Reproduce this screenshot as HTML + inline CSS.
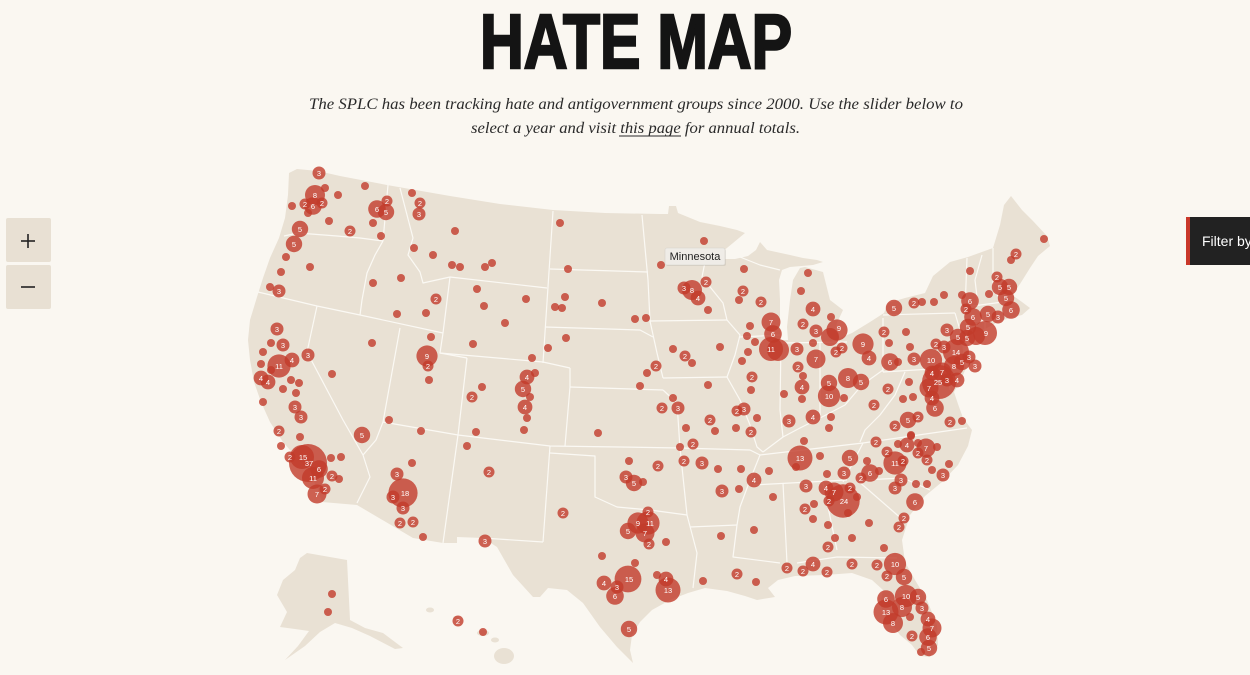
<!DOCTYPE html>
<html><head><meta charset="utf-8"><style>
html,body{margin:0;padding:0;background:#faf7f1;}
svg{display:block;}
</style></head><body>
<svg width="1250" height="675" viewBox="0 0 1250 675" xmlns="http://www.w3.org/2000/svg">
<rect width="1250" height="675" fill="#faf7f1"/>
<text x="480" y="68" font-family="Liberation Sans Narrow, Liberation Sans, sans-serif" font-weight="bold" font-size="77" fill="#141414" stroke="#141414" stroke-width="2.5" textLength="312" lengthAdjust="spacingAndGlyphs">HATE MAP</text>
<text x="309" y="109" font-family="Liberation Serif, serif" font-style="italic" font-size="16" fill="#2a2a2a" textLength="654" lengthAdjust="spacingAndGlyphs">The SPLC has been tracking hate and antigovernment groups since 2000. Use the slider below to</text>
<text x="471" y="133" font-family="Liberation Serif, serif" font-style="italic" font-size="16" fill="#2a2a2a" textLength="329" lengthAdjust="spacingAndGlyphs">select a year and visit this page for annual totals.</text>
<line x1="619" y1="136" x2="681" y2="136" stroke="#2a2a2a" stroke-width="0.9"/>

<!-- zoom buttons -->
<rect x="6" y="218" width="45" height="44" rx="2" fill="#e8e0d3"/>
<rect x="6" y="265" width="45" height="44" rx="2" fill="#e8e0d3"/>
<line x1="21" y1="241" x2="35" y2="241" stroke="#222" stroke-width="1.6"/>
<line x1="28" y1="234" x2="28" y2="248" stroke="#222" stroke-width="1.6"/>
<line x1="21" y1="287" x2="35" y2="287" stroke="#222" stroke-width="1.6"/>

<!-- filter button -->
<rect x="1186" y="217" width="70" height="48" rx="3" fill="#222"/>
<rect x="1186" y="217" width="4" height="48" fill="#c9382a"/>
<text x="1202" y="246" font-family="Liberation Sans, sans-serif" font-size="14" fill="#fff">Filter by</text>

<!-- land -->
<g fill="#e9e1d4">
<path d="M289,173 L297,169 L318,171 L340,176 L387,185 L450,196 L500,204 L553,210 L605,213 L660,214 L668,214 L669,206 L676,206 L678,213 L700,222 L720,226 L737,230 L745,233 L733,243 L722,252 L718,259 L735,259 L748,256 L756,250 L760,242 L767,250 L790,255 L803,258 L817,260 L823,262 L813,265 L790,267 L782,270 L779,280 L780,300 L780,327 L781,340 L788,340 L787,327 L790,300 L793,280 L800,268 L805,267 L823,272 L830,300 L843,310 L837,323 L835,330 L840,338 L852,333 L870,322 L884,313 L888,303 L905,298 L925,293 L933,276 L950,262 L968,257 L993,248 L1000,225 L1004,205 L1011,196 L1022,210 L1033,221 L1047,236 L1050,246 L1038,256 L1030,268 L1020,284 L1012,295 L1022,302 L1030,308 L1022,315 L1010,318 L998,322 L985,329 L972,334 L962,340 L963,352 L966,368 L960,382 L954,392 L958,404 L963,418 L972,430 L968,446 L958,465 L942,482 L925,496 L910,515 L902,540 L905,562 L915,580 L927,600 L937,625 L938,645 L930,657 L920,656 L912,645 L900,635 L890,622 L880,605 L883,590 L872,580 L852,573 L825,575 L795,576 L778,580 L768,588 L775,597 L757,600 L745,596 L727,591 L705,588 L688,593 L670,600 L652,610 L640,622 L632,635 L630,650 L633,663 L617,647 L600,627 L583,603 L567,590 L548,588 L540,597 L533,597 L513,575 L497,547 L483,538 L457,537 L457,543 L443,543 L413,538 L357,505 L322,502 L318,490 L310,472 L296,457 L283,442 L270,422 L261,402 L254,382 L250,360 L248,340 L250,320 L257,297 L263,278 L270,258 L279,238 L285,218 L288,195 Z"/>
<path d="M307,553 L347,560 L350,620 L365,628 L383,633 L403,648 L395,649 L370,636 L352,628 L335,623 L320,632 L305,646 L285,660 L298,646 L309,631 L295,629 L280,627 L287,612 L277,595 L283,580 L295,570 L300,558 Z"/>
<ellipse cx="430" cy="610" rx="4" ry="2.5"/>
<ellipse cx="456" cy="618" rx="3" ry="2"/>
<ellipse cx="483" cy="633" rx="6" ry="3"/>
<ellipse cx="495" cy="640" rx="4" ry="2.5"/>
<ellipse cx="504" cy="656" rx="10" ry="8"/>
</g>

<!-- state borders -->
<g fill="none" stroke="#fbf9f4" stroke-width="1.2" stroke-linejoin="round">
<polyline points="284,236 298,233 337,236 360,238 383,241"/>
<polyline points="388,185 383,241"/>
<polyline points="383,241 375,255 367,273 362,300 360,315"/>
<polyline points="258,292 317,306 360,315 443,333"/>
<polyline points="317,306 307,352 343,420 363,455 370,477 357,503"/>
<polyline points="400,328 383,422 376,440 363,455"/>
<polyline points="383,422 458,435 550,446 620,447 680,448"/>
<polyline points="458,435 443,543"/>
<polyline points="400,188 413,238 408,255 420,272 423,283 450,277"/>
<polyline points="450,277 443,333 440,353 467,358"/>
<polyline points="450,277 547,288"/>
<polyline points="553,211 543,363"/>
<polyline points="440,353 543,362 570,368"/>
<polyline points="467,358 458,435"/>
<polyline points="570,368 570,387 565,446"/>
<polyline points="550,269 648,272"/>
<polyline points="545,327 640,330 653,337"/>
<polyline points="570,387 663,390"/>
<polyline points="663,390 677,403 680,448"/>
<polyline points="550,453 595,456 595,497 617,507 650,510 687,515"/>
<polyline points="680,448 687,515"/>
<polyline points="550,446 543,542"/>
<polyline points="483,538 543,542"/>
<polyline points="687,515 697,553 693,588"/>
<polyline points="642,215 648,280 650,321"/>
<polyline points="650,321 727,320"/>
<polyline points="663,378 727,377"/>
<polyline points="650,321 657,353 663,378"/>
<polyline points="727,320 740,335 735,355 727,377"/>
<polyline points="705,262 702,277 723,303 727,320"/>
<polyline points="740,337 780,335"/>
<polyline points="740,257 760,265 780,270"/>
<polyline points="727,377 740,400 750,425 757,447 763,452"/>
<polyline points="680,448 750,450 760,455"/>
<polyline points="781,340 780,410 783,437"/>
<polyline points="763,452 783,437 800,428 822,417 845,405 862,385 883,370"/>
<polyline points="820,343 820,418"/>
<polyline points="781,343 847,342"/>
<polyline points="883,318 883,372"/>
<polyline points="883,315 955,313"/>
<polyline points="955,313 960,330 962,340"/>
<polyline points="883,372 948,368"/>
<polyline points="905,372 895,395 880,415 865,430 860,442"/>
<polyline points="760,455 863,443"/>
<polyline points="863,443 967,428"/>
<polyline points="863,443 843,482"/>
<polyline points="753,485 847,480"/>
<polyline points="760,455 750,480 740,507 737,525"/>
<polyline points="690,527 737,525"/>
<polyline points="737,525 733,557 780,563"/>
<polyline points="783,483 787,563"/>
<polyline points="823,483 837,550"/>
<polyline points="797,563 837,557 897,558"/>
<polyline points="857,480 903,520"/>
<polyline points="863,480 903,478 930,490"/>
<polyline points="967,258 965,310"/>
<polyline points="982,255 975,280 978,305"/>
<polyline points="993,248 993,290 1000,298"/>
<polyline points="965,307 1003,302"/>
<polyline points="965,322 995,320"/>
<polyline points="985,320 985,330"/>
<polyline points="948,368 950,390"/>
</g>

<!-- dots -->
<g fill="#c23b2b" fill-opacity="0.8">
<circle cx="319" cy="173" r="6.5"/><circle cx="315" cy="195" r="10"/><circle cx="305" cy="204" r="5.5"/><circle cx="313" cy="206" r="8.8"/><circle cx="322" cy="203" r="5.5"/><circle cx="325" cy="188" r="4"/><circle cx="308" cy="213" r="4"/><circle cx="292" cy="206" r="4"/><circle cx="338" cy="195" r="4"/><circle cx="365" cy="186" r="4"/><circle cx="377" cy="209" r="8.8"/><circle cx="386" cy="212" r="8.2"/><circle cx="387" cy="201" r="5.5"/><circle cx="373" cy="223" r="4"/><circle cx="381" cy="236" r="4"/><circle cx="329" cy="221" r="4"/><circle cx="350" cy="231" r="5.5"/><circle cx="300" cy="229" r="8.2"/><circle cx="294" cy="244" r="8.2"/><circle cx="286" cy="257" r="4"/><circle cx="281" cy="272" r="4"/><circle cx="310" cy="267" r="4"/><circle cx="270" cy="287" r="4"/><circle cx="279" cy="291" r="6.5"/>
<circle cx="412" cy="193" r="4"/><circle cx="420" cy="203" r="5.5"/><circle cx="419" cy="214" r="6.5"/><circle cx="455" cy="231" r="4"/><circle cx="414" cy="248" r="4"/><circle cx="433" cy="255" r="4"/><circle cx="452" cy="265" r="4"/><circle cx="460" cy="267" r="4"/><circle cx="485" cy="267" r="4"/><circle cx="492" cy="263" r="4"/><circle cx="560" cy="223" r="4"/><circle cx="568" cy="269" r="4"/><circle cx="373" cy="283" r="4"/><circle cx="401" cy="278" r="4"/><circle cx="436" cy="299" r="5.5"/><circle cx="397" cy="314" r="4"/><circle cx="426" cy="313" r="4"/><circle cx="477" cy="289" r="4"/><circle cx="484" cy="306" r="4"/><circle cx="526" cy="299" r="4"/><circle cx="505" cy="323" r="4"/><circle cx="565" cy="297" r="4"/><circle cx="555" cy="307" r="4"/><circle cx="562" cy="308" r="4"/><circle cx="602" cy="303" r="4"/><circle cx="635" cy="319" r="4"/><circle cx="646" cy="318" r="4"/><circle cx="566" cy="338" r="4"/><circle cx="548" cy="348" r="4"/><circle cx="532" cy="358" r="4"/><circle cx="473" cy="344" r="4"/><circle cx="431" cy="337" r="4"/>
<circle cx="427" cy="356" r="10.6"/><circle cx="428" cy="366" r="5.5"/><circle cx="429" cy="380" r="4"/><circle cx="372" cy="343" r="4"/><circle cx="332" cy="374" r="4"/><circle cx="308" cy="355" r="6.5"/><circle cx="277" cy="329" r="6.5"/><circle cx="283" cy="345" r="6.5"/><circle cx="271" cy="343" r="4"/><circle cx="263" cy="352" r="4"/><circle cx="261" cy="364" r="4"/><circle cx="279" cy="366" r="11.6"/><circle cx="292" cy="360" r="7.4"/><circle cx="271" cy="370" r="4"/><circle cx="261" cy="378" r="7.4"/><circle cx="268" cy="382" r="7.4"/><circle cx="291" cy="380" r="4"/><circle cx="299" cy="383" r="4"/><circle cx="283" cy="389" r="4"/><circle cx="296" cy="393" r="4"/><circle cx="263" cy="402" r="4"/><circle cx="295" cy="407" r="6.5"/><circle cx="301" cy="417" r="6.5"/><circle cx="389" cy="420" r="4"/>
<circle cx="527" cy="377" r="7.4"/><circle cx="535" cy="373" r="4"/><circle cx="523" cy="389" r="8.2"/><circle cx="530" cy="397" r="4"/><circle cx="525" cy="407" r="7.4"/><circle cx="527" cy="418" r="4"/><circle cx="482" cy="387" r="4"/><circle cx="472" cy="397" r="5.5"/><circle cx="656" cy="366" r="5.5"/><circle cx="647" cy="373" r="4"/><circle cx="640" cy="386" r="4"/><circle cx="524" cy="430" r="4"/>
<circle cx="279" cy="431" r="5.5"/><circle cx="300" cy="437" r="4"/><circle cx="281" cy="446" r="4"/><circle cx="290" cy="457" r="5.5"/>
<circle cx="308" cy="463" r="19"/><circle cx="302" cy="457" r="12"/><circle cx="319" cy="469" r="8.8"/><circle cx="313" cy="478" r="11"/>
<circle cx="331" cy="458" r="4"/><circle cx="341" cy="457" r="4"/><circle cx="332" cy="476" r="5.5"/><circle cx="339" cy="479" r="4"/><circle cx="325" cy="489" r="5.5"/><circle cx="317" cy="494" r="9.5"/><circle cx="362" cy="435" r="8.2"/><circle cx="421" cy="431" r="4"/><circle cx="476" cy="432" r="4"/><circle cx="467" cy="446" r="4"/>
<circle cx="412" cy="463" r="4"/><circle cx="397" cy="474" r="6.5"/><circle cx="403" cy="493" r="14.6"/><circle cx="393" cy="497" r="6.5"/><circle cx="403" cy="508" r="6.5"/><circle cx="400" cy="523" r="5.5"/><circle cx="413" cy="522" r="5.5"/><circle cx="423" cy="537" r="4"/><circle cx="489" cy="472" r="5.5"/><circle cx="485" cy="541" r="6.5"/><circle cx="563" cy="513" r="5.5"/><circle cx="598" cy="433" r="4"/>
<circle cx="662" cy="408" r="5.5"/><circle cx="678" cy="408" r="6.5"/><circle cx="686" cy="428" r="4"/><circle cx="680" cy="447" r="4"/><circle cx="693" cy="444" r="5.5"/><circle cx="684" cy="461" r="5.5"/><circle cx="629" cy="461" r="4"/><circle cx="658" cy="466" r="5.5"/><circle cx="626" cy="477" r="6.5"/><circle cx="634" cy="483" r="8.2"/><circle cx="643" cy="482" r="4"/>
<circle cx="648" cy="512" r="5.5"/><circle cx="638" cy="523" r="10.6"/><circle cx="648" cy="523" r="11.6"/><circle cx="628" cy="531" r="8.2"/><circle cx="645" cy="533" r="9.5"/><circle cx="649" cy="544" r="5.5"/><circle cx="666" cy="542" r="4"/><circle cx="602" cy="556" r="4"/><circle cx="635" cy="563" r="4"/><circle cx="628" cy="579" r="13.4"/><circle cx="604" cy="583" r="7.4"/><circle cx="617" cy="587" r="6.5"/><circle cx="615" cy="596" r="8.8"/><circle cx="657" cy="575" r="4"/><circle cx="666" cy="579" r="7.4"/><circle cx="668" cy="590" r="12.5"/><circle cx="629" cy="629" r="8.2"/>
<circle cx="332" cy="594" r="4"/><circle cx="328" cy="612" r="4"/><circle cx="458" cy="621" r="5.5"/><circle cx="483" cy="632" r="4"/>
<circle cx="704" cy="241" r="4"/><circle cx="661" cy="265" r="4"/><circle cx="684" cy="288" r="6.5"/><circle cx="692" cy="290" r="10"/><circle cx="698" cy="298" r="7.4"/><circle cx="706" cy="282" r="5.5"/><circle cx="708" cy="310" r="4"/><circle cx="744" cy="269" r="4"/><circle cx="743" cy="291" r="5.5"/><circle cx="739" cy="300" r="4"/><circle cx="761" cy="302" r="5.5"/>
<circle cx="771" cy="322" r="9.5"/><circle cx="773" cy="334" r="8.8"/><circle cx="778" cy="350" r="11"/><circle cx="771" cy="349" r="12"/>
<circle cx="750" cy="326" r="4"/><circle cx="747" cy="336" r="4"/><circle cx="755" cy="342" r="4"/><circle cx="748" cy="352" r="4"/><circle cx="742" cy="361" r="4"/><circle cx="752" cy="377" r="5.5"/><circle cx="751" cy="390" r="4"/><circle cx="720" cy="347" r="4"/><circle cx="673" cy="349" r="4"/><circle cx="685" cy="356" r="5.5"/><circle cx="692" cy="363" r="4"/><circle cx="708" cy="385" r="4"/><circle cx="673" cy="398" r="4"/><circle cx="710" cy="420" r="5.5"/><circle cx="715" cy="431" r="4"/><circle cx="737" cy="411" r="5.5"/><circle cx="744" cy="409" r="6.5"/><circle cx="736" cy="428" r="4"/><circle cx="751" cy="432" r="5.5"/><circle cx="757" cy="418" r="4"/>
<circle cx="702" cy="463" r="6.5"/><circle cx="718" cy="469" r="4"/><circle cx="741" cy="469" r="4"/><circle cx="769" cy="471" r="4"/><circle cx="754" cy="480" r="7.4"/><circle cx="722" cy="491" r="6.5"/><circle cx="739" cy="489" r="4"/><circle cx="773" cy="497" r="4"/><circle cx="754" cy="530" r="4"/><circle cx="721" cy="536" r="4"/>
<circle cx="808" cy="273" r="4"/><circle cx="801" cy="291" r="4"/><circle cx="813" cy="309" r="7.4"/><circle cx="831" cy="317" r="4"/><circle cx="803" cy="324" r="5.5"/><circle cx="816" cy="331" r="6.5"/><circle cx="837" cy="330" r="10.6"/><circle cx="830" cy="337" r="9"/><circle cx="813" cy="343" r="4"/><circle cx="816" cy="359" r="9.5"/><circle cx="797" cy="349" r="6.5"/><circle cx="836" cy="352" r="5.5"/><circle cx="842" cy="348" r="5.5"/><circle cx="863" cy="344" r="10.6"/><circle cx="869" cy="358" r="7.4"/>
<circle cx="894" cy="308" r="8.2"/><circle cx="914" cy="303" r="5.5"/><circle cx="922" cy="302" r="4"/><circle cx="934" cy="302" r="4"/><circle cx="944" cy="295" r="4"/><circle cx="970" cy="271" r="4"/><circle cx="962" cy="295" r="4"/><circle cx="970" cy="301" r="8.8"/><circle cx="966" cy="309" r="5.5"/><circle cx="989" cy="294" r="4"/><circle cx="997" cy="277" r="5.5"/><circle cx="1011" cy="260" r="4"/><circle cx="1016" cy="254" r="5.5"/><circle cx="1044" cy="239" r="4"/>
<circle cx="1000" cy="287" r="8.2"/><circle cx="1009" cy="287" r="8.2"/><circle cx="1006" cy="298" r="8.2"/><circle cx="1011" cy="310" r="8.8"/><circle cx="998" cy="317" r="6.5"/><circle cx="988" cy="314" r="8.2"/><circle cx="973" cy="317" r="8.8"/><circle cx="968" cy="327" r="8.2"/><circle cx="985" cy="333" r="12"/><circle cx="976" cy="336" r="9"/><circle cx="947" cy="330" r="6.5"/><circle cx="958" cy="337" r="8.2"/><circle cx="967" cy="338" r="8.2"/><circle cx="956" cy="352" r="13"/><circle cx="944" cy="347" r="6.5"/><circle cx="936" cy="344" r="5.5"/><circle cx="969" cy="357" r="6.5"/><circle cx="975" cy="366" r="6.5"/><circle cx="962" cy="362" r="8.2"/><circle cx="954" cy="366" r="10"/><circle cx="931" cy="360" r="11.1"/><circle cx="942" cy="372" r="9.5"/><circle cx="932" cy="373" r="7.4"/><circle cx="939" cy="382" r="17"/><circle cx="947" cy="380" r="6.5"/><circle cx="957" cy="380" r="7.4"/><circle cx="929" cy="388" r="9.5"/><circle cx="932" cy="398" r="7.4"/><circle cx="935" cy="408" r="8.8"/>
<circle cx="909" cy="382" r="4"/><circle cx="913" cy="397" r="4"/><circle cx="903" cy="399" r="4"/><circle cx="914" cy="359" r="6.5"/><circle cx="890" cy="362" r="8.8"/><circle cx="898" cy="362" r="4"/><circle cx="884" cy="332" r="5.5"/><circle cx="906" cy="332" r="4"/><circle cx="889" cy="343" r="4"/><circle cx="910" cy="347" r="4"/><circle cx="888" cy="389" r="5.5"/><circle cx="874" cy="405" r="5.5"/>
<circle cx="848" cy="378" r="10"/><circle cx="861" cy="382" r="8.2"/><circle cx="829" cy="383" r="8.2"/><circle cx="829" cy="396" r="11.1"/><circle cx="844" cy="398" r="4"/><circle cx="802" cy="387" r="7.4"/><circle cx="802" cy="399" r="4"/><circle cx="798" cy="367" r="5.5"/><circle cx="803" cy="376" r="4"/><circle cx="784" cy="394" r="4"/><circle cx="789" cy="421" r="6.5"/><circle cx="813" cy="417" r="7.4"/><circle cx="831" cy="417" r="4"/><circle cx="829" cy="428" r="4"/><circle cx="895" cy="426" r="5.5"/><circle cx="908" cy="420" r="8.2"/><circle cx="918" cy="417" r="5.5"/><circle cx="950" cy="422" r="5.5"/><circle cx="962" cy="421" r="4"/><circle cx="911" cy="435" r="4"/>
<circle cx="804" cy="441" r="4"/><circle cx="800" cy="458" r="12.5"/><circle cx="796" cy="467" r="4"/><circle cx="820" cy="456" r="4"/><circle cx="850" cy="458" r="8.2"/><circle cx="844" cy="473" r="6.5"/><circle cx="827" cy="474" r="4"/><circle cx="806" cy="486" r="6.5"/><circle cx="826" cy="488" r="7.4"/><circle cx="834" cy="492" r="9.5"/><circle cx="850" cy="488" r="5.5"/><circle cx="843" cy="501" r="16.7"/><circle cx="829" cy="501" r="5.5"/><circle cx="857" cy="497" r="4"/><circle cx="848" cy="513" r="4"/><circle cx="814" cy="504" r="4"/><circle cx="805" cy="509" r="5.5"/><circle cx="813" cy="519" r="4"/><circle cx="828" cy="525" r="4"/><circle cx="835" cy="538" r="4"/><circle cx="828" cy="547" r="5.5"/><circle cx="852" cy="538" r="4"/><circle cx="869" cy="523" r="4"/>
<circle cx="867" cy="461" r="4"/><circle cx="861" cy="478" r="5.5"/><circle cx="870" cy="473" r="8.8"/><circle cx="879" cy="471" r="4"/><circle cx="876" cy="442" r="5.5"/><circle cx="887" cy="452" r="5.5"/><circle cx="895" cy="463" r="11.6"/><circle cx="903" cy="461" r="5.5"/><circle cx="901" cy="480" r="6.5"/><circle cx="895" cy="488" r="6.5"/><circle cx="916" cy="484" r="4"/><circle cx="927" cy="484" r="4"/><circle cx="915" cy="502" r="8.8"/><circle cx="904" cy="518" r="5.5"/><circle cx="899" cy="527" r="5.5"/><circle cx="884" cy="548" r="4"/>
<circle cx="898" cy="444" r="4"/><circle cx="907" cy="445" r="7.4"/><circle cx="911" cy="436" r="4"/><circle cx="918" cy="443" r="4"/><circle cx="926" cy="448" r="9.5"/><circle cx="937" cy="447" r="4"/><circle cx="918" cy="453" r="5.5"/><circle cx="927" cy="460" r="5.5"/><circle cx="932" cy="470" r="4"/><circle cx="949" cy="464" r="4"/><circle cx="943" cy="475" r="6.5"/>
<circle cx="737" cy="574" r="5.5"/><circle cx="703" cy="581" r="4"/><circle cx="756" cy="582" r="4"/><circle cx="787" cy="568" r="5.5"/><circle cx="803" cy="571" r="5.5"/><circle cx="813" cy="564" r="7.4"/><circle cx="827" cy="572" r="5.5"/><circle cx="852" cy="564" r="5.5"/><circle cx="877" cy="565" r="5.5"/><circle cx="895" cy="564" r="11.1"/><circle cx="887" cy="576" r="5.5"/><circle cx="904" cy="577" r="8.2"/>
<circle cx="906" cy="596" r="11.1"/><circle cx="918" cy="597" r="8.2"/><circle cx="886" cy="599" r="8.8"/><circle cx="886" cy="612" r="12.5"/><circle cx="902" cy="607" r="10"/><circle cx="922" cy="608" r="6.5"/><circle cx="893" cy="623" r="10"/><circle cx="910" cy="617" r="4"/><circle cx="928" cy="619" r="7.4"/><circle cx="932" cy="628" r="9.5"/><circle cx="912" cy="636" r="5.5"/><circle cx="928" cy="637" r="8.8"/><circle cx="929" cy="648" r="8.2"/><circle cx="921" cy="652" r="4"/>
</g>

<!-- dot labels -->
<g fill="#fff" font-family="Liberation Sans, sans-serif" font-size="7.5" text-anchor="middle">
<text x="319" y="176">3</text><text x="315" y="198">8</text><text x="305" y="207">2</text><text x="313" y="209">6</text><text x="322" y="206">2</text><text x="377" y="212">6</text><text x="386" y="215">5</text><text x="387" y="204">2</text><text x="350" y="234">2</text><text x="300" y="232">5</text><text x="294" y="247">5</text><text x="279" y="294">3</text>
<text x="420" y="206">2</text><text x="419" y="217">3</text><text x="436" y="302">2</text><text x="427" y="359">9</text><text x="428" y="369">2</text><text x="308" y="358">3</text><text x="277" y="332">3</text><text x="283" y="348">3</text><text x="279" y="369">11</text><text x="292" y="363">4</text><text x="261" y="381">4</text><text x="268" y="385">4</text><text x="295" y="410">3</text><text x="301" y="420">3</text>
<text x="527" y="380">4</text><text x="523" y="392">5</text><text x="525" y="410">4</text><text x="472" y="400">2</text><text x="656" y="369">2</text>
<text x="279" y="434">2</text><text x="290" y="460">2</text><text x="303" y="460">15</text><text x="309" y="466">37</text><text x="319" y="472">6</text><text x="313" y="481">11</text><text x="332" y="479">2</text><text x="325" y="492">2</text><text x="317" y="497">7</text><text x="362" y="438">5</text>
<text x="397" y="477">3</text><text x="405" y="496">18</text><text x="393" y="500">3</text><text x="403" y="511">3</text><text x="400" y="526">2</text><text x="413" y="525">2</text><text x="489" y="475">2</text><text x="485" y="544">3</text><text x="563" y="516">2</text>
<text x="662" y="411">2</text><text x="678" y="411">3</text><text x="693" y="447">2</text><text x="684" y="464">2</text><text x="658" y="469">2</text><text x="626" y="480">3</text><text x="634" y="486">5</text>
<text x="648" y="515">2</text><text x="638" y="526">9</text><text x="650" y="526">11</text><text x="628" y="534">5</text><text x="645" y="536">7</text><text x="649" y="547">2</text><text x="629" y="582">15</text><text x="604" y="586">4</text><text x="617" y="590">3</text><text x="615" y="599">6</text><text x="666" y="582">4</text><text x="668" y="593">13</text><text x="629" y="632">5</text><text x="458" y="624">2</text>
<text x="684" y="291">3</text><text x="692" y="293">8</text><text x="698" y="301">4</text><text x="706" y="285">2</text><text x="743" y="294">2</text><text x="761" y="305">2</text><text x="771" y="325">7</text><text x="773" y="337">6</text><text x="771" y="352">11</text>
<text x="752" y="380">2</text><text x="685" y="359">2</text><text x="710" y="423">2</text><text x="737" y="414">2</text><text x="744" y="412">3</text><text x="751" y="435">2</text><text x="702" y="466">3</text><text x="754" y="483">4</text><text x="722" y="494">3</text>
<text x="813" y="312">4</text><text x="803" y="327">2</text><text x="816" y="334">3</text><text x="839" y="331">9</text><text x="816" y="362">7</text><text x="797" y="352">3</text><text x="836" y="355">2</text><text x="842" y="351">2</text><text x="863" y="347">9</text><text x="869" y="361">4</text>
<text x="894" y="311">5</text><text x="914" y="306">2</text><text x="970" y="304">6</text><text x="966" y="312">2</text><text x="997" y="280">2</text><text x="1016" y="257">2</text>
<text x="1000" y="290">5</text><text x="1009" y="290">5</text><text x="1006" y="301">5</text><text x="1011" y="313">6</text><text x="998" y="320">3</text><text x="988" y="317">5</text><text x="973" y="320">6</text><text x="968" y="330">5</text><text x="986" y="336">9</text><text x="947" y="333">3</text><text x="958" y="340">5</text><text x="967" y="341">5</text><text x="956" y="355">14</text><text x="944" y="350">3</text><text x="936" y="347">2</text><text x="969" y="360">3</text><text x="975" y="369">3</text><text x="962" y="365">5</text><text x="954" y="369">8</text><text x="931" y="363">10</text><text x="942" y="375">7</text><text x="932" y="376">4</text><text x="938" y="385">25</text><text x="947" y="383">3</text><text x="957" y="383">4</text><text x="929" y="391">7</text><text x="932" y="401">4</text><text x="935" y="411">6</text>
<text x="914" y="362">3</text><text x="890" y="365">6</text><text x="884" y="335">2</text><text x="888" y="392">2</text><text x="874" y="408">2</text><text x="848" y="381">8</text><text x="861" y="385">5</text><text x="829" y="386">5</text><text x="829" y="399">10</text><text x="802" y="390">4</text><text x="798" y="370">2</text><text x="789" y="424">3</text><text x="813" y="420">4</text><text x="895" y="429">2</text><text x="908" y="423">5</text><text x="918" y="420">2</text><text x="950" y="425">2</text>
<text x="800" y="461">13</text><text x="850" y="461">5</text><text x="844" y="476">3</text><text x="806" y="489">3</text><text x="826" y="491">4</text><text x="834" y="495">7</text><text x="850" y="491">2</text><text x="844" y="504">24</text><text x="829" y="504">2</text><text x="805" y="512">2</text><text x="828" y="550">2</text>
<text x="861" y="481">2</text><text x="870" y="476">6</text><text x="876" y="445">2</text><text x="887" y="455">2</text><text x="895" y="466">11</text><text x="903" y="464">2</text><text x="901" y="483">3</text><text x="895" y="491">3</text><text x="915" y="505">6</text><text x="904" y="521">2</text><text x="899" y="530">2</text>
<text x="907" y="448">4</text><text x="926" y="451">7</text><text x="918" y="456">2</text><text x="927" y="463">2</text><text x="943" y="478">3</text>
<text x="737" y="577">2</text><text x="787" y="571">2</text><text x="803" y="574">2</text><text x="813" y="567">4</text><text x="827" y="575">2</text><text x="852" y="567">2</text><text x="877" y="568">2</text><text x="895" y="567">10</text><text x="887" y="579">2</text><text x="904" y="580">5</text>
<text x="906" y="599">10</text><text x="918" y="600">5</text><text x="886" y="602">6</text><text x="886" y="615">13</text><text x="902" y="610">8</text><text x="922" y="611">3</text><text x="893" y="626">8</text><text x="928" y="622">4</text><text x="932" y="631">7</text><text x="912" y="639">2</text><text x="928" y="640">6</text><text x="929" y="651">5</text>
</g>

<!-- tooltip -->
<rect x="665" y="248" width="60" height="17" rx="2" fill="#000" fill-opacity="0.08" transform="translate(1,1)"/>
<rect x="665" y="248" width="60" height="17" rx="2" fill="#efece7" stroke="#d6d2cb" stroke-width="0.6"/>
<text x="695" y="260" font-family="Liberation Sans, sans-serif" font-size="11" fill="#222" text-anchor="middle">Minnesota</text>
</svg>
</body></html>
